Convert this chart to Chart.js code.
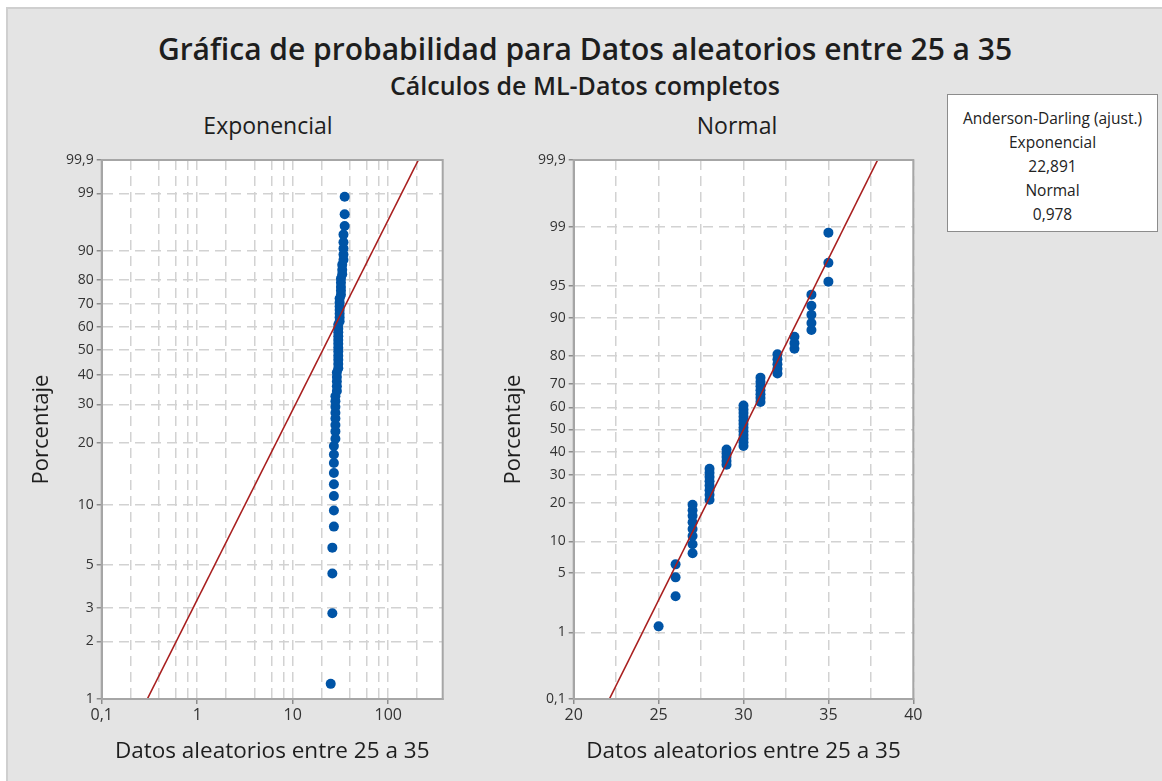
<!DOCTYPE html>
<html>
<head>
<meta charset="utf-8">
<script src="https://cdn.jsdelivr.net/npm/chart.js@4"></script>
<style>
  html, body { margin: 0; padding: 0; background: #fff; }
  body { width: 1162px; height: 781px; position: relative; overflow: hidden; font-family: "Open Sans", sans-serif; }
  #marco { position: absolute; left: 6px; top: 7px; width: 1156px; height: 774px; background: #e4e4e4;
           border-left: 2px solid #cfcfcf; border-top: 2px solid #cfcfcf; box-sizing: border-box; }
  .txt { position: absolute; color: #1e1e1e; white-space: nowrap; transform: translate(-50%, -50%); }
  #titulo { left: 585px; top: 48px; font-size: 30px; font-weight: 600; }
  #subtitulo { left: 585px; top: 85px; font-size: 25px; font-weight: 600; }
  .panel { font-size: 23px; top: 125px; }
  canvas { position: absolute; top: 140px; }
  #leyenda { position: absolute; left: 947px; top: 94px; width: 211px; height: 138px; background: #fff;
             border: 1px solid #8c8c8c; box-sizing: border-box; text-align: center; font-size: 15.5px;
             line-height: 24px; padding-top: 11px; color: #222; }
</style>
</head>
<body>
<div id="marco"></div>
<div class="txt" id="titulo">Gráfica de probabilidad para Datos aleatorios entre 25 a 35</div>
<div class="txt" id="subtitulo">Cálculos de ML-Datos completos</div>
<div class="txt panel" style="left:268px">Exponencial</div>
<div class="txt panel" style="left:737px">Normal</div>
<div id="leyenda">
  <div>Anderson-Darling (ajust.)</div>
  <div>Exponencial</div>
  <div>22,891</div>
  <div>Normal</div>
  <div>0,978</div>
</div>
<canvas id="graficaExp" width="470" height="641" style="left:0px"></canvas>
<canvas id="graficaNormal" width="470" height="641" style="left:472px"></canvas>
<script>
// datos (60 observaciones ordenadas)
const datos = [25, 26, 26, 26,
  27, 27, 27, 27, 27, 27, 27, 27,
  28, 28, 28, 28, 28, 28, 28, 28,
  29, 29, 29, 29, 29,
  30, 30, 30, 30, 30, 30, 30, 30, 30, 30, 30, 30,
  31, 31, 31, 31, 31, 31, 31,
  32, 32, 32, 32, 32,
  33, 33, 33,
  34, 34, 34, 34, 34,
  35, 35, 35];
const porcentajes = [1.2, 2.8, 4.5, 6.1, 7.8, 9.4, 11.1, 12.7, 14.4, 16.1, 17.7, 19.4, 21.0, 22.7, 24.3,
  26.0, 27.6, 29.3, 31.0, 32.6, 34.3, 35.9, 37.6, 39.2, 40.9, 42.5, 44.2, 45.9, 47.5, 49.2,
  50.8, 52.5, 54.1, 55.8, 57.5, 59.1, 60.8, 62.4, 64.1, 65.7, 67.4, 69.0, 70.7, 72.4, 74.0,
  75.7, 77.3, 79.0, 80.6, 82.3, 83.9, 85.6, 87.3, 88.9, 90.6, 92.2, 93.9, 95.5, 97.2, 98.8];

// lineas de ajuste (extremos)
const ajusteExpX = [0.3, 207];
const ajusteExpP = [1, 99.9];
const ajusteNormX = [22.1, 37.9];
const ajusteNormP = [0.1, 99.9];

// marcas de los ejes
const ticksExpY = [1, 2, 3, 5, 10, 20, 30, 40, 50, 60, 70, 80, 90, 99, 99.9];
const ticksNormY = [0.1, 1, 5, 10, 20, 30, 40, 50, 60, 70, 80, 90, 95, 99, 99.9];
const gridExpX = [0.1, 0.2, 0.4, 0.6, 0.8, 1, 2, 4, 6, 8, 10, 20, 40, 60, 80, 100, 200];
const etiquetasExpX = [0.1, 1, 10, 100];

const fmt = v => String(v).replace('.', ',');

function probit(p) {
  const a = [-3.969683028665376e+01, 2.209460984245205e+02, -2.759285104469687e+02, 1.383577518672690e+02, -3.066479806614716e+01, 2.506628277459239e+00];
  const b = [-5.447609879822406e+01, 1.615858368580409e+02, -1.556989798598866e+02, 6.680131188771972e+01, -1.328068155288572e+01];
  const c = [-7.784894002430293e-03, -3.223964580411365e-01, -2.400758277161838e+00, -2.549671348233443e+00, 4.374664141464968e+00, 2.938163982698783e+00];
  const d = [7.784695709041462e-03, 3.224671290700398e-01, 2.445134137142996e+00, 3.754408661907416e+00];
  const pl = 0.02425;
  let q, r;
  if (p < pl) {
    q = Math.sqrt(-2 * Math.log(p));
    return (((((c[0]*q+c[1])*q+c[2])*q+c[3])*q+c[4])*q+c[5]) / ((((d[0]*q+d[1])*q+d[2])*q+d[3])*q+1);
  }
  if (p <= 1 - pl) {
    q = p - 0.5; r = q * q;
    return (((((a[0]*r+a[1])*r+a[2])*r+a[3])*r+a[4])*r+a[5])*q / (((((b[0]*r+b[1])*r+b[2])*r+b[3])*r+b[4])*r+1);
  }
  q = Math.sqrt(-2 * Math.log(1 - p));
  return -(((((c[0]*q+c[1])*q+c[2])*q+c[3])*q+c[4])*q+c[5]) / ((((d[0]*q+d[1])*q+d[2])*q+d[3])*q+1);
}
const escalaExp = p => Math.log10(-Math.log(1 - p / 100));
const escalaNorm = p => probit(p / 100);

Chart.defaults.font.family = "'Open Sans', sans-serif";

const marco = {
  id: 'marco',
  beforeDraw(chart) {
    const { ctx, chartArea: a } = chart;
    ctx.save();
    ctx.fillStyle = '#fff';
    ctx.fillRect(a.left, a.top, a.right - a.left, a.bottom - a.top);
    ctx.restore();
  },
  afterDraw(chart) {
    const { ctx, chartArea: a } = chart;
    ctx.save();
    ctx.strokeStyle = '#a6a6a6';
    ctx.lineWidth = 2;
    ctx.strokeRect(a.left, a.top, a.right - a.left, a.bottom - a.top);
    ctx.restore();
  }
};

const colorGrid = '#d2d2d2';
const colorTick = '#8c8c8c';
const colorTexto = '#333';

function ejeY(ticks, escala) {
  return {
    type: 'linear',
    min: escala(ticks[0]),
    max: escala(ticks[ticks.length - 1]),
    afterBuildTicks: s => { s.ticks = ticks.map(t => ({ value: escala(t) })); },
    afterFit: s => { s.width = 81.7; },
    ticks: { autoSkip: false, padding: 3, color: colorTexto, font: { size: 14 },
             callback: (v, i) => fmt(ticks[i]) },
    grid: { color: colorGrid, lineWidth: 1.5, tickColor: colorTick, tickLength: 5, tickWidth: 1.5 },
    border: { dash: [10, 6], color: '#a6a6a6', width: 2 },
    title: { display: true, text: 'Porcentaje', color: '#1e1e1e', font: { size: 22 }, padding: { top: 9, bottom: 0 } }
  };
}

function tituloX() {
  return { display: true, text: 'Datos aleatorios entre 25 a 35', color: '#1e1e1e', font: { size: 22.5 },
           padding: { top: 0, bottom: 15.5 } };
}

const puntos = (escala) => datos.map((d, i) => ({ x: d, y: escala(porcentajes[i]) }));
const linea = (xs, ps, escala) => xs.map((x, i) => ({ x: x, y: escala(ps[i]) }));

function opcionesComunes(padRight) {
  return {
    responsive: false,
    animation: false,
    devicePixelRatio: 1,
    events: [],
    layout: { padding: { left: 20, right: padRight, top: 20, bottom: 0 } },
    plugins: { legend: { display: false }, tooltip: { enabled: false } }
  };
}

const estiloPuntos = { type: 'scatter', backgroundColor: '#0054a6', borderColor: '#0054a6', pointRadius: 5, borderWidth: 0 };
const estiloLinea = { type: 'line', borderColor: '#a81e1e', borderWidth: 1.6, pointRadius: 0, fill: false };

new Chart('graficaExp', {
  type: 'scatter',
  data: {
    datasets: [
      Object.assign({ data: linea(ajusteExpX, ajusteExpP, escalaExp) }, estiloLinea),
      Object.assign({ data: puntos(escalaExp) }, estiloPuntos)
    ]
  },
  options: Object.assign(opcionesComunes(27.3), {
    scales: {
      x: {
        type: 'logarithmic',
        min: 0.1,
        max: 372,
        afterBuildTicks: s => { s.ticks = gridExpX.map(v => ({ value: v })); },
        afterFit: s => { s.height = 82; },
        ticks: { autoSkip: false, maxRotation: 0, padding: 2, color: colorTexto, font: { size: 16 },
                 callback: (v, i) => etiquetasExpX.includes(gridExpX[i]) ? fmt(gridExpX[i]) : '' },
        grid: { color: colorGrid, lineWidth: 1.5, tickLength: 5, tickWidth: 1.5,
                tickColor: c => (c.tick && etiquetasExpX.includes(c.tick.value)) ? colorTick : 'rgba(0,0,0,0)' },
        border: { dash: [10, 6], color: '#a6a6a6', width: 2 },
        title: tituloX()
      },
      y: ejeY(ticksExpY, escalaExp)
    }
  }),
  plugins: [marco]
});

new Chart('graficaNormal', {
  type: 'scatter',
  data: {
    datasets: [
      Object.assign({ data: linea(ajusteNormX, ajusteNormP, escalaNorm) }, estiloLinea),
      Object.assign({ data: puntos(escalaNorm) }, estiloPuntos)
    ]
  },
  options: Object.assign(opcionesComunes(28.7), {
    scales: {
      x: {
        type: 'linear',
        min: 20,
        max: 40,
        afterFit: s => { s.height = 82; },
        ticks: { stepSize: 2.5, autoSkip: false, maxRotation: 0, padding: 2, color: colorTexto, font: { size: 16 },
                 callback: v => v % 5 === 0 ? String(v) : '' },
        grid: { color: colorGrid, lineWidth: 1.5, tickLength: 5, tickWidth: 1.5,
                tickColor: c => (c.tick && c.tick.value % 5 === 0) ? colorTick : 'rgba(0,0,0,0)' },
        border: { dash: [10, 6], color: '#a6a6a6', width: 2 },
        title: tituloX()
      },
      y: ejeY(ticksNormY, escalaNorm)
    }
  }),
  plugins: [marco]
});
</script>
</body>
</html>
